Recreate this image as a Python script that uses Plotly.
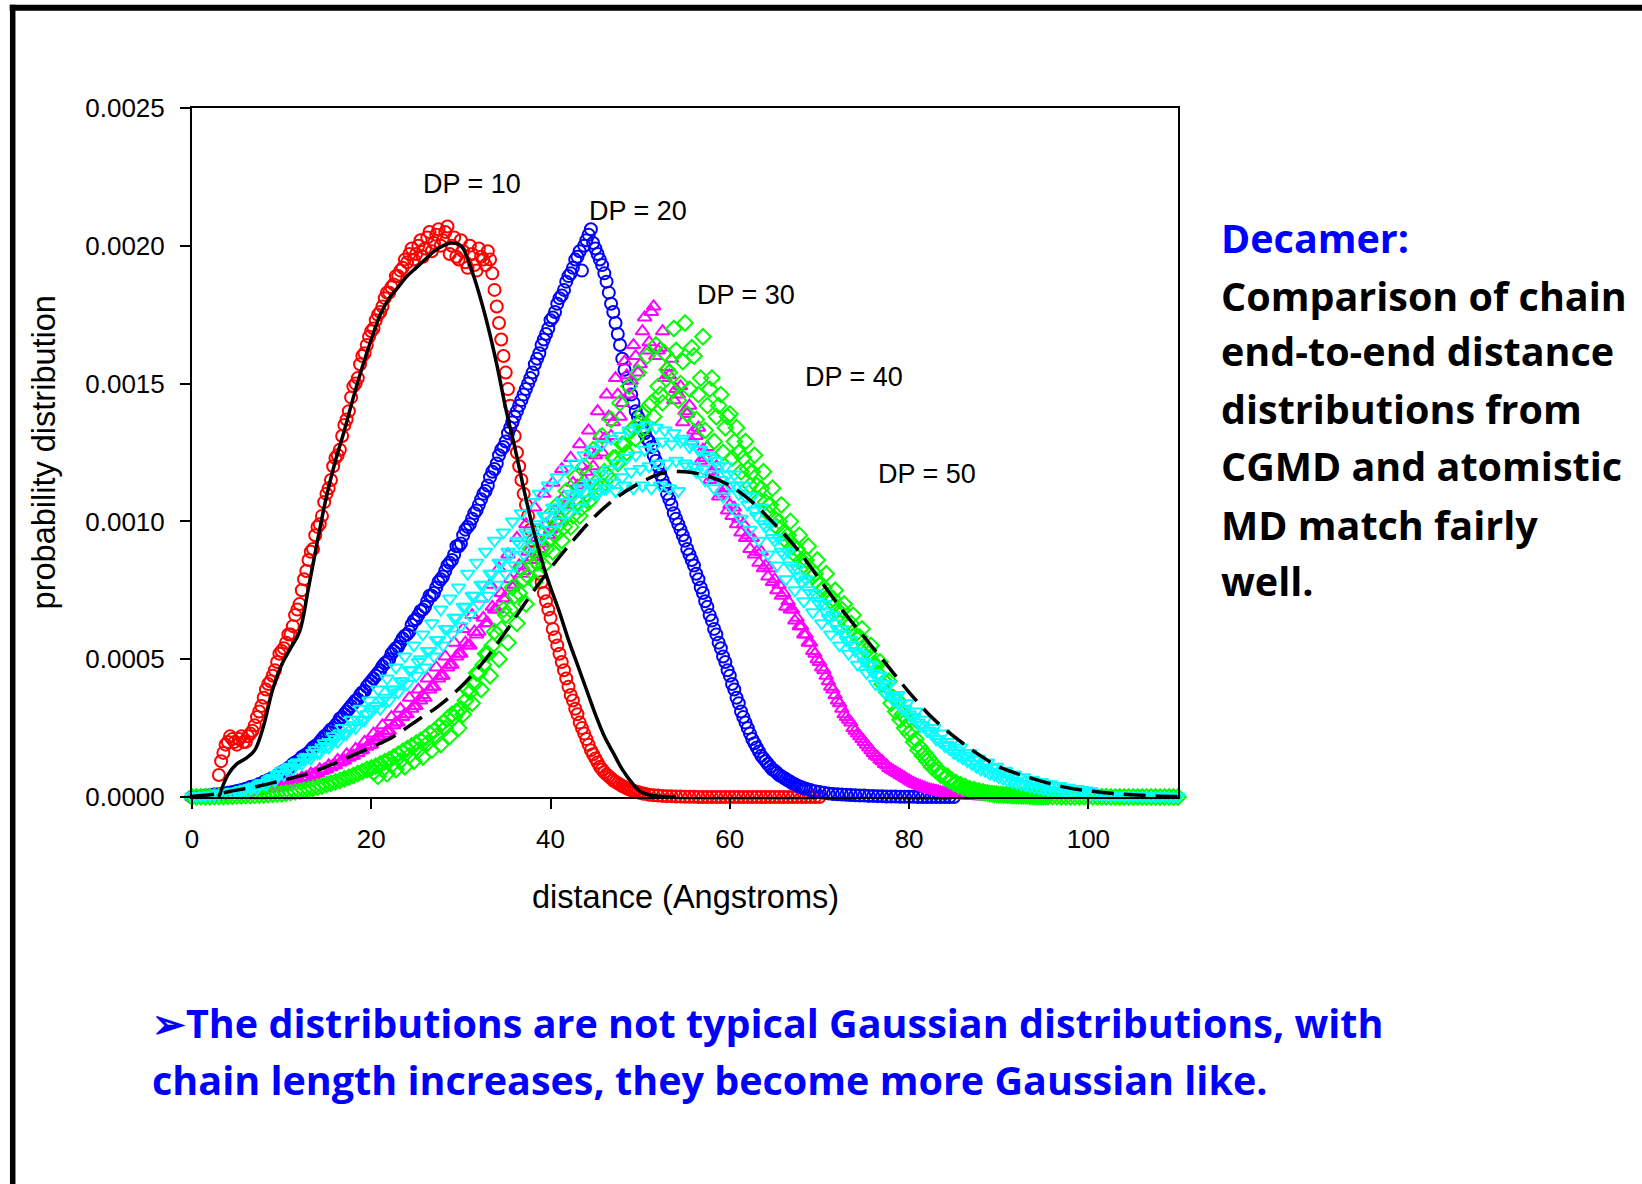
import numpy as np
import plotly.graph_objects as go

# ---------------- data (y values in units of 1e-4) ----------------
STEP = 0.5
dp10_x0 = 2.5
dp10_y = [0.1, 0.8, 1.6, 2.0, 2.1, 1.9, 2.2, 2.0, 2.3, 2.6, 3.1, 3.6, 4.1, 4.4, 4.9, 5.3, 5.6, 5.9, 6.6, 7.0,
          7.9, 8.6, 9.0, 9.8, 10.2, 11.0, 11.5, 12.3, 12.6, 13.5, 14.0, 14.9, 15.2, 16.0, 16.4, 16.9, 17.3, 17.6, 18.1, 18.3,
          18.6, 18.9, 19.2, 19.4, 19.9, 19.7, 20.2, 19.9, 20.5, 20.1, 20.6, 20.2, 20.7, 20.0, 19.6, 20.2, 19.4, 20.0, 19.3, 19.9,
          19.5, 19.8, 19.0, 17.8, 16.6, 15.4, 14.2, 13.1, 12.0, 11.0, 10.2, 9.3, 8.5, 7.8, 7.1, 6.5, 5.8, 5.2, 4.6, 4.0,
          3.5, 3.0, 2.5, 2.1, 1.7, 1.4, 1.1, 0.9, 0.75, 0.6, 0.5, 0.4, 0.32, 0.25, 0.2, 0.15, 0.12, 0.08, 0.06, 0.05,
          0.04, 0.03, 0.03, 0.02, 0.02, 0.01, 0.01, 0.01, 0.0, 0.0, 0.0, 0.0, 0.0, 0.0, 0.0, 0.0, 0.0, 0.0, 0.0, 0.0,
          0.0, 0.0, 0.0, 0.0, 0.0, 0.0, 0.0, 0.0, 0.0, 0.0, 0.0, 0.0, 0.0, 0.0, 0.0, 0.0]
dp10b_x0 = 3.25
dp10b_y = [1.3, 1.9, 2.2, 2.0, 2.1, 2.0, 2.2, 2.4, 2.9, 3.3, 3.9, 4.2, 4.6, 5.2, 5.4, 5.9, 6.2, 6.8, 7.5, 8.2,
           8.9, 9.5, 9.9, 10.7, 11.2, 12.0, 12.4, 13.1, 13.7, 14.5, 15.0, 15.7, 16.1, 16.7, 17.0, 17.5, 17.8, 18.3, 18.5, 18.9,
           19.1, 19.5, 19.7, 19.5, 20.0, 19.6, 20.3, 19.8, 20.4, 20.0, 20.5, 19.7, 20.3, 19.5, 19.8, 19.2, 19.7, 19.1, 19.6, 19.3,
           19.5, 18.4, 17.2, 16.0, 14.8, 13.6, 12.5, 11.5, 10.6, 9.7, 8.9, 8.1, 7.4, 6.8, 6.1, 5.5, 4.9, 4.3, 3.7, 3.2,
           2.7, 2.3, 1.9, 1.55, 1.25, 1.0, 0.82, 0.68, 0.55, 0.45, 0.36, 0.28, 0.22, 0.17, 0.13]

dp20_x0 = 0.0
dp20_y = [0.0, 0.02, 0.03, 0.05, 0.06, 0.08, 0.1, 0.12, 0.15, 0.18, 0.22, 0.25, 0.3, 0.36, 0.4, 0.47, 0.55, 0.62, 0.7, 0.78,
          0.9, 1.0, 1.1, 1.25, 1.35, 1.5, 1.6, 1.8, 1.9, 2.1, 2.2, 2.45, 2.6, 2.85, 3.0, 3.2, 3.4, 3.55, 3.8, 4.0,
          4.2, 4.4, 4.6, 4.85, 5.0, 5.3, 5.45, 5.75, 5.9, 6.25, 6.45, 6.75, 6.9, 7.3, 7.4, 7.8, 8.0, 8.4, 8.6, 9.1,
          9.2, 9.7, 9.9, 10.3, 10.6, 11.0, 11.3, 11.8, 12.1, 12.6, 12.9, 13.4, 13.8, 14.2, 14.6, 15.0, 15.4, 15.9, 16.4, 16.8,
          17.3, 17.6, 18.1, 18.4, 18.9, 19.2, 19.6, 19.1, 20.2, 20.6, 19.9, 19.5, 19.0, 18.3, 17.6, 16.8, 15.9, 15.2, 14.6, 14.0,
          13.6, 13.2, 12.9, 12.4, 12.0, 11.5, 11.0, 10.6, 10.1, 9.7, 9.3, 8.8, 8.4, 7.9, 7.4, 6.9, 6.4, 5.9, 5.4, 4.9,
          4.4, 3.9, 3.4, 2.9, 2.5, 2.1, 1.8, 1.5, 1.3, 1.1, 0.95, 0.8, 0.7, 0.6, 0.5, 0.42, 0.35, 0.3, 0.25, 0.21,
          0.18, 0.15, 0.13, 0.11, 0.1, 0.09, 0.08, 0.07, 0.06, 0.05, 0.05, 0.04, 0.04, 0.03, 0.03, 0.02, 0.02, 0.02, 0.01, 0.01,
          0.01, 0.01, 0.0, 0.0, 0.0, 0.0, 0.0, 0.0, 0.0, 0.0, 0.0]
dp20b_x0 = 10.25
dp20b_y = [0.95, 1.05, 1.2, 1.3, 1.45, 1.55, 1.7, 1.85, 2.0, 2.2, 2.35, 2.5, 2.7, 2.9, 3.1, 3.3, 3.5, 3.7, 3.85, 4.1,
           4.3, 4.5, 4.75, 4.9, 5.2, 5.4, 5.6, 5.85, 6.0, 6.4, 6.6, 6.8, 7.1, 7.3, 7.6, 7.9, 8.2, 8.5, 8.8, 9.1,
           9.5, 9.8, 10.1, 10.4, 10.8, 11.1, 11.6, 11.9, 12.4, 12.7, 13.2, 13.6, 14.0, 14.4, 14.8, 15.2, 15.7, 16.1, 16.6, 17.0,
           17.4, 17.9, 18.2, 18.7, 19.0, 19.5, 19.8, 20.0, 20.4, 20.1, 19.7, 19.3, 18.7, 17.9, 17.2, 16.4, 15.5, 14.9, 14.3, 13.8,
           13.4, 13.0, 12.7, 12.2, 11.7, 11.3, 10.8, 10.3, 9.9, 9.5, 9.0, 8.6, 8.1, 7.6, 7.1, 6.6, 6.1, 5.6, 5.1, 4.6,
           4.1, 3.6, 3.1, 2.7, 2.3, 1.95, 1.65, 1.4, 1.2, 1.0, 0.88, 0.75, 0.65, 0.55, 0.46, 0.38, 0.32]

dp30_x0 = 0.0
dp30_y = [0.0, 0.01, 0.02, 0.02, 0.03, 0.04, 0.05, 0.06, 0.08, 0.09, 0.1, 0.12, 0.15, 0.17, 0.2, 0.22, 0.25, 0.29, 0.33, 0.36,
          0.4, 0.45, 0.5, 0.55, 0.6, 0.67, 0.72, 0.8, 0.85, 0.93, 1.0, 1.08, 1.15, 1.25, 1.32, 1.42, 1.5, 1.6, 1.7, 1.82,
          1.9, 2.05, 2.15, 2.3, 2.4, 2.6, 2.7, 2.9, 3.0, 3.2, 3.3, 3.5, 3.6, 3.9, 4.0, 4.3, 4.4, 4.7, 4.8, 5.1,
          5.2, 5.6, 5.5, 6.0, 6.0, 6.5, 6.3, 6.9, 6.8, 7.4, 7.2, 7.9, 7.7, 8.4, 8.2, 8.9, 8.7, 9.4, 9.2, 9.9,
          9.7, 10.4, 10.2, 10.9, 10.7, 11.4, 11.3, 12.0, 11.8, 12.5, 12.4, 13.1, 13.0, 13.8, 13.6, 14.6, 14.3, 15.3, 15.1, 16.0,
          15.7, 17.4, 16.5, 17.8, 16.2, 16.9, 15.6, 15.9, 14.8, 14.9, 14.0, 14.2, 13.3, 13.4, 12.6, 12.7, 11.8, 12.0, 11.1, 11.2,
          10.6, 10.5, 10.1, 9.9, 9.5, 9.4, 8.9, 8.9, 8.4, 8.3, 7.9, 7.7, 7.4, 7.1, 6.8, 6.5, 6.2, 5.9, 5.6, 5.2,
          4.9, 4.6, 4.2, 3.9, 3.5, 3.2, 2.9, 2.7, 2.4, 2.2, 2.0, 1.8, 1.6, 1.45, 1.3, 1.15, 1.0, 0.9, 0.8, 0.7,
          0.6, 0.5, 0.43, 0.37, 0.3, 0.26, 0.22, 0.18, 0.15, 0.12, 0.1, 0.08, 0.06, 0.05, 0.04, 0.035, 0.03, 0.025, 0.02, 0.015,
          0.01, 0.01, 0.01, 0.0, 0.0, 0.0, 0.0, 0.0, 0.0, 0.0, 0.0]
dp30b_x0 = 10.25
dp30b_y = [0.45, 0.5, 0.6, 0.6, 0.7, 0.72, 0.85, 0.85, 1.0, 1.0, 1.15, 1.15, 1.35, 1.3, 1.55, 1.5, 1.75, 1.7, 2.0, 1.9,
           2.3, 2.2, 2.6, 2.4, 2.9, 2.7, 3.2, 3.0, 3.6, 3.3, 3.9, 3.7, 4.3, 4.0, 4.7, 4.4, 5.1, 4.8, 5.6, 5.2,
           6.1, 5.5, 6.6, 5.9, 7.2, 6.3, 7.7, 6.8, 8.3, 7.2, 8.8, 7.6, 9.4, 8.1, 9.9, 8.6, 10.5, 9.0, 11.0, 9.5,
           11.4, 10.0, 11.9, 10.6, 12.3, 11.0, 12.8, 11.5, 13.3, 12.0, 14.0, 12.5, 14.6, 13.1, 15.2, 13.8, 15.8, 14.6, 16.4, 15.4,
           16.9, 16.2, 17.6, 16.0, 16.3, 15.2, 15.3, 14.4, 14.6, 13.6, 13.9, 12.9, 13.1, 12.2, 12.3, 11.5, 11.6, 10.9, 11.0, 10.4,
           10.2, 9.9, 9.6, 9.4, 9.0, 8.8, 8.5, 8.3, 8.0, 7.8, 7.5, 7.3, 6.9, 6.8, 6.4, 6.2, 5.9, 5.6, 5.3, 5.0,
           4.7, 4.4, 4.0, 3.7, 3.4, 3.0, 2.8, 2.5, 2.3, 2.1, 1.9, 1.7, 1.5, 1.35, 1.2, 1.05, 0.95, 0.85, 0.75, 0.65,
           0.55, 0.47, 0.4, 0.34, 0.28, 0.24, 0.2, 0.16, 0.13, 0.11, 0.09, 0.07, 0.06, 0.05, 0.04, 0.03, 0.03, 0.02, 0.02, 0.01,
           0.01]

dp40_x0 = 0.0
dp40_y = [0.0, 0.0, 0.01, 0.01, 0.01, 0.02, 0.02, 0.02, 0.03, 0.03, 0.04, 0.04, 0.05, 0.05, 0.06, 0.07, 0.08, 0.09, 0.1, 0.11,
          0.12, 0.14, 0.16, 0.19, 0.22, 0.25, 0.28, 0.32, 0.36, 0.4, 0.45, 0.5, 0.55, 0.6, 0.66, 0.72, 0.78, 0.85, 0.92, 1.0,
          1.05, 1.12, 1.2, 1.28, 1.35, 1.45, 1.55, 1.65, 1.75, 1.85, 1.95, 2.05, 2.15, 2.3, 2.4, 2.55, 2.7, 2.85, 3.0, 3.1,
          3.2, 3.5, 3.8, 4.1, 4.5, 4.8, 5.2, 5.5, 5.9, 6.1, 6.6, 6.8, 7.3, 7.4, 7.9, 8.0, 8.4, 8.5, 9.0, 9.0,
          9.4, 9.5, 9.9, 9.8, 10.3, 10.2, 10.7, 10.5, 11.0, 10.8, 11.4, 11.2, 11.8, 11.6, 12.3, 12.1, 12.8, 12.5, 13.3, 13.0,
          13.6, 13.4, 14.2, 13.8, 14.9, 14.3, 15.5, 14.8, 16.2, 15.0, 17.2, 14.8, 16.0, 14.6, 16.7, 14.2, 15.2, 13.8, 14.6, 13.4,
          13.9, 12.9, 12.5, 12.3, 11.9, 11.8, 11.3, 11.2, 10.7, 10.6, 10.1, 10.0, 9.6, 9.5, 9.1, 9.0, 8.6, 8.6, 8.1, 8.1,
          7.7, 7.6, 7.3, 7.2, 6.8, 6.8, 6.3, 6.3, 5.9, 5.8, 5.4, 5.2, 4.8, 4.5, 4.1, 3.8, 3.4, 3.1, 2.8, 2.5,
          2.3, 2.0, 1.7, 1.5, 1.3, 1.1, 0.95, 0.8, 0.7, 0.6, 0.5, 0.42, 0.35, 0.3, 0.25, 0.2, 0.17, 0.15, 0.12, 0.1,
          0.08, 0.07, 0.06, 0.05, 0.05, 0.04, 0.04, 0.03, 0.03, 0.03, 0.02, 0.02, 0.02, 0.02, 0.01, 0.01, 0.01, 0.01, 0.01, 0.01,
          0.01, 0.01, 0.01, 0.01, 0.01, 0.0, 0.0, 0.0, 0.0, 0.0, 0.0, 0.0, 0.0, 0.0, 0.0, 0.0, 0.0, 0.0, 0.0, 0.0,
          0.0]
dp40b_x0 = 20.25
dp40b_y = [0.9, 0.75, 1.0, 0.85, 1.15, 1.0, 1.3, 1.1, 1.5, 1.3, 1.7, 1.45, 1.95, 1.7, 2.2, 1.9, 2.5, 2.2, 2.9, 2.5,
           3.0, 3.9, 3.4, 4.5, 3.9, 5.2, 4.4, 6.0, 5.0, 6.8, 5.6, 7.6, 6.3, 8.3, 7.0, 9.0, 7.8, 9.6, 8.4, 10.2,
           8.9, 10.6, 9.3, 11.1, 9.8, 11.6, 10.2, 12.0, 10.7, 12.6, 11.1, 13.1, 11.7, 13.7, 12.3, 14.3, 12.8, 14.9, 13.4, 15.4,
           13.9, 16.0, 14.3, 16.4, 14.6, 16.1, 15.4, 17.0, 14.4, 15.8, 13.9, 16.3, 13.7, 15.2, 13.3, 14.8, 12.9, 14.2, 12.5, 13.8,
           12.3, 13.4, 11.8, 12.9, 11.3, 12.4, 10.8, 11.8, 10.3, 11.2, 9.8, 10.6, 9.3, 10.0, 8.8, 9.5, 8.4, 9.1, 8.0, 8.6,
           7.5, 8.1, 7.1, 7.5, 6.6, 7.0, 6.2, 6.6, 5.8, 6.1, 5.3, 5.5, 4.8, 4.9, 4.2, 4.2, 3.6, 3.5, 3.0, 2.8,
           2.4, 2.1, 1.8, 1.6, 1.4, 1.2, 1.0, 0.85, 0.75, 0.62, 0.52, 0.44, 0.38, 0.3, 0.26, 0.22, 0.18, 0.15, 0.12, 0.1,
           0.09, 0.08, 0.07, 0.06, 0.05, 0.04, 0.04, 0.03, 0.03, 0.02, 0.02]

dp50_x0 = 0.0
dp50_y = [0.02, 0.03, 0.04, 0.05, 0.06, 0.08, 0.1, 0.12, 0.15, 0.18, 0.2, 0.25, 0.3, 0.33, 0.38, 0.45, 0.5, 0.6, 0.7, 0.8,
          0.95, 1.0, 1.1, 1.2, 1.25, 1.4, 1.45, 1.6, 1.6, 1.8, 1.85, 2.0, 2.1, 2.3, 2.3, 2.5, 2.6, 2.8, 2.8, 3.0,
          3.1, 3.3, 3.2, 3.6, 3.5, 3.9, 3.8, 4.2, 4.1, 4.6, 4.4, 5.0, 4.7, 5.3, 5.1, 5.7, 5.5, 6.1, 5.9, 6.5,
          6.2, 6.9, 6.6, 7.3, 7.0, 7.7, 7.3, 8.1, 7.7, 8.5, 8.1, 8.8, 8.4, 9.2, 8.8, 9.5, 9.1, 9.8, 9.4, 10.2,
          9.7, 10.4, 10.0, 10.7, 10.3, 10.9, 10.5, 11.2, 10.8, 11.4, 11.0, 11.7, 11.2, 11.9, 11.4, 12.1, 11.6, 12.3, 11.8, 12.4,
          11.9, 12.6, 12.0, 12.7, 12.1, 12.9, 12.1, 12.8, 12.2, 12.9, 12.1, 12.7, 12.0, 12.6, 11.9, 12.4, 11.7, 12.2, 11.5, 12.0,
          11.3, 11.7, 11.0, 11.3, 10.6, 10.9, 10.2, 10.5, 9.8, 9.9, 9.3, 9.4, 8.8, 8.9, 8.3, 8.3, 7.8, 7.9, 7.4, 7.4,
          7.0, 7.0, 6.5, 6.6, 6.1, 6.1, 5.7, 5.7, 5.3, 5.2, 4.9, 4.8, 4.5, 4.4, 4.1, 4.0, 3.7, 3.6, 3.4, 3.2,
          3.0, 2.9, 2.7, 2.6, 2.4, 2.3, 2.1, 2.0, 1.85, 1.75, 1.6, 1.5, 1.4, 1.3, 1.2, 1.1, 1.0, 0.95, 0.85, 0.8,
          0.72, 0.66, 0.6, 0.56, 0.5, 0.46, 0.42, 0.38, 0.35, 0.32, 0.29, 0.26, 0.24, 0.22, 0.2, 0.18, 0.16, 0.15, 0.13, 0.12,
          0.11, 0.1, 0.09, 0.08, 0.07, 0.06, 0.06, 0.05, 0.05, 0.04, 0.04, 0.03, 0.03, 0.03, 0.02, 0.02, 0.02, 0.02, 0.01, 0.01,
          0.01]
dp50b_x0 = 5.25
dp50b_y = [0.15, 0.25, 0.2, 0.35, 0.3, 0.5, 0.45, 0.65, 0.6, 0.85, 0.8, 1.05, 1.0, 1.25, 1.2, 1.45, 1.4, 1.7, 1.6, 1.95,
           1.8, 2.2, 2.0, 2.5, 2.3, 2.8, 2.5, 3.2, 2.8, 3.5, 3.2, 3.9, 3.5, 4.3, 3.9, 4.7, 4.2, 5.1, 4.6, 5.5,
           4.9, 5.9, 5.3, 6.3, 5.7, 6.8, 6.1, 7.2, 6.5, 7.6, 6.9, 8.1, 7.3, 8.5, 7.7, 8.9, 8.1, 9.3, 8.5, 9.6,
           8.9, 10.0, 9.3, 10.3, 9.6, 10.7, 9.9, 11.0, 10.2, 11.3, 10.5, 11.6, 10.7, 11.9, 11.0, 12.1, 11.2, 12.4, 11.4, 12.6,
           11.0, 12.8, 11.2, 13.0, 11.1, 13.1, 11.3, 13.3, 11.2, 13.4, 11.3, 13.5, 11.2, 13.4, 11.3, 13.3, 11.2, 13.2, 11.1, 13.0,
           12.0, 12.8, 11.8, 12.6, 11.5, 12.3, 11.2, 12.0, 10.9, 11.7, 10.5, 11.3, 10.1, 10.9, 9.7, 10.4, 9.3, 9.9, 8.8, 9.4,
           8.4, 8.9, 7.9, 8.4, 7.5, 8.0, 7.1, 7.5, 6.7, 7.1, 6.3, 6.7, 5.9, 6.3, 5.5, 5.9, 5.2, 5.5, 4.8, 5.1,
           4.5, 4.8, 4.1, 4.4, 3.8, 4.1, 3.5, 3.7, 3.2, 3.4, 2.9, 3.1, 2.6, 2.8, 2.4, 2.5, 2.1, 2.3, 1.9, 2.0,
           1.7, 1.8, 1.5, 1.6, 1.35, 1.4, 1.2, 1.25, 1.05, 1.1, 0.92, 0.95, 0.8, 0.82, 0.7, 0.72, 0.6, 0.62, 0.52, 0.54,
           0.45, 0.46, 0.39, 0.4, 0.34, 0.34, 0.29, 0.29, 0.25, 0.24, 0.21]

# CGMD-style smooth curves
fit10_x0, fit10_step = 3.0, 1.0
fit10_y = [0.0, 0.8, 1.2, 1.4, 1.7, 2.6, 3.9, 4.8, 5.4, 6.0, 7.6, 9.3, 10.9, 12.2, 13.3, 14.5, 15.6, 16.6, 17.5, 18.1,
           18.5, 18.9, 19.2, 19.5, 19.8, 20.0, 20.1, 20.0, 19.3, 18.3, 17.1, 15.7, 14.1, 12.7, 11.2, 9.8, 8.6, 7.6, 6.7, 5.7,
           4.8, 3.9, 3.0, 2.2, 1.6, 1.0, 0.55, 0.2, 0.08, 0.03, 0.01, 0.0]
fit50_x0, fit50_step = 0.0, 2.5
fit50_y = [0.02, 0.1, 0.25, 0.4, 0.6, 0.8, 1.1, 1.45, 1.8, 2.2, 2.75, 3.3, 4.0, 4.9, 6.0, 7.2, 8.3, 9.3, 10.2, 10.9,
           11.4, 11.75, 11.8, 11.65, 11.3, 10.7, 9.9, 9.0, 7.9, 6.8, 5.8, 4.8, 3.8, 2.9, 2.2, 1.6, 1.1, 0.8, 0.55, 0.35,
           0.22, 0.14, 0.08, 0.04, 0.02]

x_ticks = [0, 20, 40, 60, 80, 100]
y_ticks = [0.0, 0.0005, 0.0010, 0.0015, 0.0020, 0.0025]
dp_labels = ["DP = 10", "DP = 20", "DP = 30", "DP = 40", "DP = 50"]
dp_label_x = [31.25, 49.8, 61.75, 73.9, 82.0]
dp_label_y = [0.002224, 0.002125, 0.001821, 0.001525, 0.001172]

right_lines = ["Comparison of chain", "end-to-end distance", "distributions from",
               "CGMD and atomistic", "MD match fairly", "well."]
bottom_lines = ["\u27a2The distributions are not typical Gaussian distributions, with",
                "chain length increases, they become more Gaussian like."]

# ---------------- helpers ----------------
W, H = 1642, 1184
PL, PR, PT, PB = 192.3, 1178.3, 108.3, 797.3


def series(x0, step, ys):
    xs = x0 + step * np.arange(len(ys))
    return xs, np.array(ys) * 1e-4


def px(xp):
    return (xp - PL) / (PR - PL)


def py(yp):
    return (PB - yp) / (PB - PT)


fig = go.Figure()

RED, BLUE, MAG, GRN, CYN = "#ff0000", "#0000ff", "#ff00ff", "#00ff00", "#00ffff"
marker_specs = [
    (dp10_x0, dp10_y, "circle-open", RED),
    (dp10b_x0, dp10b_y, "circle-open", RED),
    (dp20_x0, dp20_y, "circle-open", BLUE),
    (dp20b_x0, dp20b_y, "circle-open", BLUE),
    (dp30_x0, dp30_y, "triangle-up-open", MAG),
    (dp30b_x0, dp30b_y, "triangle-up-open", MAG),
    (dp40_x0, dp40_y, "diamond-open", GRN),
    (dp40b_x0, dp40b_y, "diamond-open", GRN),
    (dp50_x0, dp50_y, "triangle-down-open", CYN),
    (dp50b_x0, dp50b_y, "triangle-down-open", CYN),
]
for x0, ys, sym, col in marker_specs:
    xs, yv = series(x0, STEP, ys)
    fig.add_trace(go.Scatter(x=xs, y=yv, mode="markers", cliponaxis=False,
                             marker=dict(symbol=sym, size=12, color=col, line=dict(width=2, color=col)),
                             showlegend=False, hoverinfo="skip"))

xs, yv = series(fit10_x0, fit10_step, fit10_y)
fig.add_trace(go.Scatter(x=xs, y=yv, mode="lines", line=dict(color="black", width=3.5, shape="spline"),
                         showlegend=False, hoverinfo="skip"))
xs, yv = series(fit50_x0, fit50_step, fit50_y)
fig.add_trace(go.Scatter(x=xs, y=yv, mode="lines", line=dict(color="black", width=3.5, dash="22px,10px", shape="spline"),
                         showlegend=False, hoverinfo="skip"))

AX_FONT = "Liberation Sans, Arial, sans-serif"
font_axis = dict(family=AX_FONT, size=26, color="black")
fig.update_xaxes(range=[0, 110], tickvals=x_ticks, ticks="outside", ticklen=10, tickwidth=2, tickcolor="black",
                 showline=True, linewidth=2, linecolor="black", mirror=True, showgrid=False, zeroline=False,
                 tickfont=font_axis, ticklabelstandoff=8)
fig.update_yaxes(range=[0, 0.0025], tickvals=y_ticks, tickformat=".4f", ticks="outside", ticklen=10, tickwidth=2,
                 tickcolor="black", showline=True, linewidth=2, linecolor="black", mirror=True, showgrid=False,
                 zeroline=False, tickfont=font_axis, ticklabelstandoff=10)

ann = []
for t, x, y in zip(dp_labels, dp_label_x, dp_label_y):
    ann.append(dict(text=t, x=x, y=y, xref="x", yref="y", showarrow=False, xanchor="center", yanchor="middle",
                    font=dict(family=AX_FONT, size=27, color="black")))
# axis titles
ann.append(dict(text="distance (Angstroms)", x=px(685.3), y=py(897), xref="paper", yref="paper", showarrow=False,
                xanchor="center", yanchor="middle", font=dict(family=AX_FONT, size=32.5, color="black")))
ann.append(dict(text="probability distribution", x=px(44), y=py(453), xref="paper", yref="paper", showarrow=False,
                textangle=-90, xanchor="center", yanchor="middle", font=dict(family=AX_FONT, size=32.5, color="black")))

tfont = dict(family="Open Sans, Noto Sans, sans-serif", size=39.5, weight="bold")
ann.append(dict(text="Decamer:", x=px(1219), y=py(253.3 - 15), xref="paper", yref="paper", showarrow=False,
                xanchor="left", yanchor="middle", font=dict(tfont, color="#0000ff")))
base = [311.7, 366.7, 424.0, 481.7, 540.0, 596.7]
for t, b in zip(right_lines, base):
    ann.append(dict(text=t, x=px(1219), y=py(b - 15), xref="paper", yref="paper", showarrow=False,
                    xanchor="left", yanchor="middle", font=dict(tfont, color="black")))
for t, b in zip(bottom_lines, [1038.0, 1095.0]):
    ann.append(dict(text=t, x=px(150), y=py(b - 15), xref="paper", yref="paper", showarrow=False,
                    xanchor="left", yanchor="middle", font=dict(tfont, color="#0000ff")))

shapes = [
    dict(type="line", xref="paper", yref="paper", x0=px(10), x1=px(1650), y0=py(8), y1=py(8),
         line=dict(color="black", width=6)),
    dict(type="line", xref="paper", yref="paper", x0=px(13), x1=px(13), y0=py(5), y1=py(1190),
         line=dict(color="black", width=5.5)),
]

fig.update_layout(width=W, height=H, autosize=False, paper_bgcolor="white", plot_bgcolor="white",
                  margin=dict(l=PL, r=W - PR, t=PT, b=H - PB, pad=0), annotations=ann, shapes=shapes)

fig.write_html("out.html", config={"displayModeBar": False})
